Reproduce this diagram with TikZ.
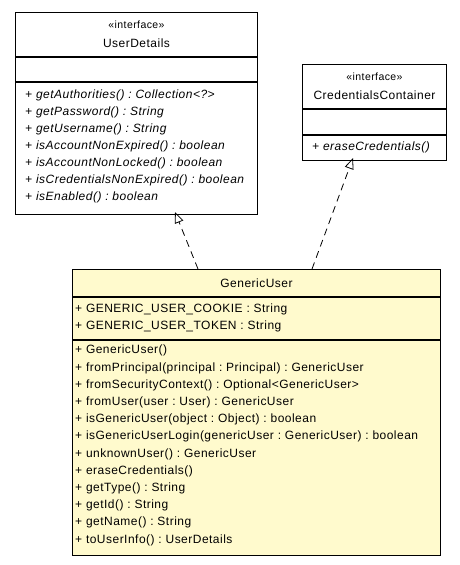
\documentclass[tikz,border=0pt]{standalone}
\usepackage{fontspec}
\setmainfont[LetterSpace=4]{Liberation Sans}
\usetikzlibrary{arrows.meta,positioning}
\definecolor{classfill}{HTML}{FFFACD}
\frenchspacing

\tikzset{
  comp/.style={draw,line width=1pt,anchor=north west,inner sep=0pt},
  namecomp/.style={comp,align=center,font=\fontsize{12}{19}\selectfont},
  opstext/.style={anchor=base west,inner sep=0pt,align=left,font=\fontsize{12}{17}\selectfont},
  realize/.style={line width=0.8pt,dash pattern=on 7pt off 5pt,-{Triangle[open,length=11pt,width=9pt]}}
}

\begin{document}
\begin{tikzpicture}[x=1pt,y=-1pt]
    \useasboundingbox (0,0) rectangle (460,565);
    % UserDetails
    \node[namecomp,minimum width=242pt,minimum height=44pt] (udname) at (15,12) {{\fontsize{10.5}{10}\selectfont«interface»}\\UserDetails};
    \node[comp,minimum width=242pt,minimum height=24pt] (udattr) at (udname.south west) {};
    \node[comp,minimum width=242pt,minimum height=132pt] (udops) at (udattr.south west) {};
    % base anchor sits on the last line
    \node[opstext,font=\fontsize{12}{17}\selectfont\itshape] (udopstext) at (25,200) {+ getAuthorities() : Collection<?>\\+ getPassword() : String\\+ getUsername() : String\\+ isAccountNonExpired() : boolean\\+ isAccountNonLocked() : boolean\\+ isCredentialsNonExpired() : boolean\\+ isEnabled() : boolean};
    % CredentialsContainer
    \node[namecomp,minimum width=144pt,minimum height=44pt] (ccname) at (302,64) {{\fontsize{10.5}{10}\selectfont«interface»}\\CredentialsContainer};
    \node[comp,minimum width=144pt,minimum height=25pt] (ccattr) at (ccname.south west) {};
    \node[comp,minimum width=144pt,minimum height=25pt] (ccops) at (ccattr.south west) {};
    \node[opstext,font=\fontsize{12}{17}\selectfont\itshape] (ccopstext) at (312,150) {+ eraseCredentials()};
    % GenericUser
    \node[namecomp,fill=classfill,minimum width=368pt,minimum height=27pt] (guname) at (72,269) {GenericUser};
    \node[comp,fill=classfill,minimum width=368pt,minimum height=42pt] (guattr) at (guname.south west) {};
    \node[comp,fill=classfill,minimum width=368pt,minimum height=215pt] (guops) at (guattr.south west) {};
    \node[opstext] (guattrtext) at (75,329) {+ GENERIC\_USER\_COOKIE : String\\+ GENERIC\_USER\_TOKEN : String};
    \node[opstext,font=\fontsize{12}{17.2}\selectfont] (guopstext) at (75,543) {+ GenericUser()\\+ fromPrincipal(principal : Principal) : GenericUser\\+ fromSecurityContext() : Optional<GenericUser>\\+ fromUser(user : User) : GenericUser\\+ isGenericUser(object : Object) : boolean\\+ isGenericUserLogin(genericUser : GenericUser) : boolean\\+ unknownUser() : GenericUser\\+ eraseCredentials()\\+ getType() : String\\+ getId() : String\\+ getName() : String\\+ toUserInfo() : UserDetails};
    % realizations
    \coordinate (gu1) at (198,269);
    \coordinate (gu2) at (312,269);
    \coordinate (udin) at (175,212);
    \coordinate (ccin) at (353,158);
    \draw[realize] (gu1) -- (udin);
    \draw[realize] (gu2) -- (ccin);
\end{tikzpicture}
\end{document}
